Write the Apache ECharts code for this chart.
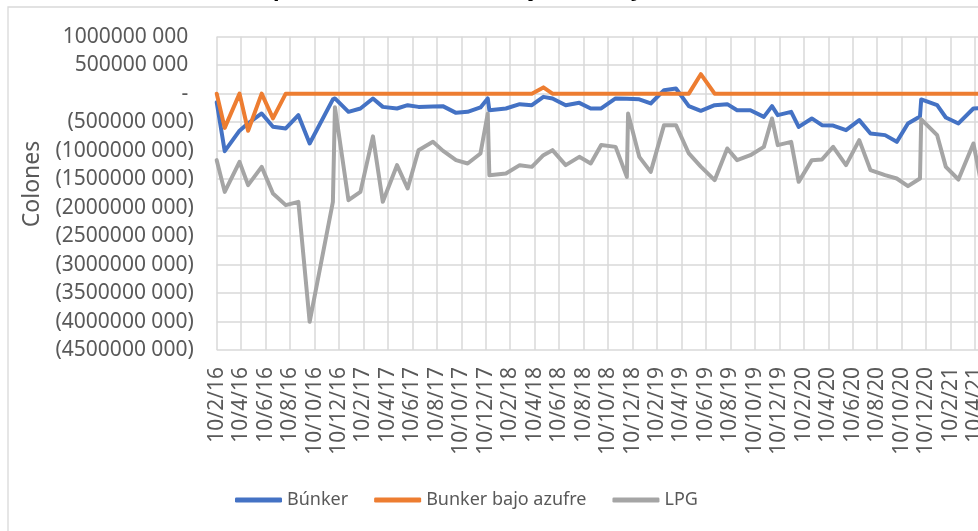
<!DOCTYPE html>
<html>
<head>
<meta charset="utf-8">
<script src="https://cdn.jsdelivr.net/npm/echarts@6/dist/echarts.min.js"></script>
<style>
  html, body { margin: 0; padding: 0; background: #fff; overflow: hidden; }
  /* el gráfico original está recortado a la derecha: el lienzo es más ancho que la ventana */
  #chart { width: 1010px; height: 531px; }
</style>
</head>
<body>
<div id="chart"></div>
<script>
// fechas de cada observación (eje de fechas por meses)
const fechas = [
  '2016-02-10', '2016-02-29', '2016-04-06', '2016-04-27', '2016-05-31', '2016-06-28',
  '2016-07-30', '2016-08-31', '2016-09-28', '2016-11-25', '2016-11-30', '2017-01-03',
  '2017-02-03', '2017-03-03', '2017-03-28', '2017-05-02', '2017-05-29', '2017-06-25',
  '2017-07-31', '2017-08-25', '2017-09-27', '2017-10-26', '2017-11-27', '2017-12-15',
  '2017-12-19', '2018-01-30', '2018-03-03', '2018-04-03', '2018-05-01', '2018-05-24',
  '2018-06-26', '2018-07-30', '2018-08-28', '2018-09-23', '2018-10-29', '2018-11-26',
  '2018-11-29', '2018-12-27', '2019-01-25', '2019-02-26', '2019-03-27', '2019-04-28',
  '2019-05-28', '2019-07-01', '2019-08-02', '2019-08-27', '2019-09-29', '2019-11-02',
  '2019-11-22', '2019-12-06', '2020-01-09', '2020-01-28', '2020-02-29', '2020-03-25',
  '2020-04-22', '2020-05-24', '2020-06-26', '2020-07-24', '2020-08-30', '2020-09-28',
  '2020-10-26', '2020-11-25', '2020-11-28', '2021-01-07', '2021-01-29', '2021-02-28',
  '2021-04-06', '2021-04-30'
]

// valores en millones de colones
const bunker = [
  -150, -1010, -650, -520, -348, -580, -611, -377, -874, -100, -84, -319,
  -260, -84, -232, -260, -202, -232, -225, -219, -337, -319, -242, -84,
  -290, -260, -184, -202, -56, -84, -202, -161, -260, -260, -84, -90,
  -90, -100, -172, 61, 91, -219, -301, -202, -184, -290, -290, -407,
  -219, -377, -319, -583, -435, -553, -560, -640, -465, -699, -728, -846,
  -523, -400, -102, -202, -418, -523, -260, -250
]
const bunkerBajoAzufre = [
  0, -600, 0, -650, 0, -435, 0, 0, 0, 0, 0, 0,
  0, 0, 0, 0, 0, 0, 0, 0, 0, 0, 0, 0,
  0, 0, 0, 0, 110, 0, 0, 0, 0, 0, 0, 0,
  0, 0, 0, 0, 0, 0, 342, 0, 0, 0, 0, 0,
  0, 0, 0, 0, 0, 0, 0, 0, 0, 0, 0, 0,
  0, 0, 0, 0, 0, 0, 0, 0
]
const lpg = [
  -1167, -1724, -1197, -1606, -1285, -1752, -1957, -1899, -4006, -1899, -240, -1870,
  -1724, -750, -1899, -1255, -1665, -992, -846, -1000, -1167, -1226, -1050, -348,
  -1431, -1401, -1255, -1285, -1080, -992, -1255, -1109, -1226, -900, -934, -1461,
  -348, -1109, -1373, -553, -553, -1050, -1280, -1519, -962, -1167, -1080, -934,
  -435, -904, -846, -1548, -1167, -1155, -934, -1255, -816, -1343, -1431, -1489,
  -1624, -1489, -450, -729, -1285, -1507, -874, -1750
]

const serieNombres = ['Búnker', 'Bunker bajo azufre', 'LPG']
const colores = ['#4472C4', '#ED7D31', '#A5A5A5']

// meses transcurridos desde 10/2/16 (eje de fechas con unidad base en meses)
const aMes = (f) => {
  const [a, m, d] = f.split('-').map(Number)
  const dias = new Date(a, m, 0).getDate()
  return (a - 2016) * 12 + (m - 2) + (d - 10) / dias
}

const etiquetaFecha = (v) => {
  const t = 1 + Math.round(v)
  const anio = 2016 + Math.floor(t / 12)
  const mes = (t % 12) + 1
  return '10/' + mes + '/' + String(anio % 100)
}

const etiquetaValor = (v) => {
  if (v === 0) return '- '
  const s = String(Math.abs(v) * 1e6)
  const txt = s.slice(0, -3) + ' ' + s.slice(-3)
  return v < 0 ? '(' + txt + ')' : txt + ' '
}

const chart = echarts.init(document.getElementById('chart'), null, { renderer: 'canvas' })

const lineas = [bunker, bunkerBajoAzufre, lpg].map((vals, i) => ({
  name: serieNombres[i],
  type: 'line',
  symbol: 'none',
  smooth: false,
  color: colores[i],
  lineStyle: { color: colores[i], width: 4, cap: 'round', join: 'round' },
  data: fechas.map((f, j) => [aMes(f), vals[j]])
}))

chart.setOption({
  animation: false,
  backgroundColor: '#fff',
  title: {
    // sólo asoma la parte baja del título, como en el original recortado
    text: 'Importación de bunker bajo azufre y LPG',
    left: 238,
    top: -26,
    textStyle: { fontSize: 22, fontWeight: 'bold', color: '#000', fontFamily: 'Noto Sans' }
  },
  graphic: [
    {
      type: 'rect',
      shape: { x: 8, y: 7, width: 2000, height: 2000 },
      style: { fill: 'none', stroke: '#d9d9d9', lineWidth: 1.3 },
      silent: true
    },
    {
      type: 'text',
      x: 32,
      y: 184,
      rotation: Math.PI / 2,
      style: {
        text: 'Colones',
        fontSize: 23,
        fontFamily: 'Noto Sans',
        fill: '#595959',
        textAlign: 'center',
        textVerticalAlign: 'middle'
      }
    }
  ],
  legend: {
    data: serieNombres,
    left: 235,
    top: 491,
    padding: 0,
    icon: 'roundRect',
    itemWidth: 47,
    itemHeight: 5,
    itemGap: 26,
    textStyle: { fontSize: 18, fontFamily: 'Noto Sans', color: '#595959' }
  },
  grid: { left: 216.7, top: 36.7, right: 8.8, height: 313.3 },
  xAxis: {
    type: 'value',
    min: 0,
    max: 64,
    interval: 2,
    axisLine: { show: false },
    axisTick: { show: false },
    splitLine: { show: true, lineStyle: { color: '#d9d9d9', width: 1.5 } },
    axisLabel: {
      rotate: 90,
      margin: 17,
      fontSize: 21,
      fontFamily: 'Noto Sans',
      color: '#595959',
      formatter: etiquetaFecha
    }
  },
  yAxis: {
    type: 'value',
    min: -4500,
    max: 1000,
    interval: 500,
    axisLine: { show: false },
    axisTick: { show: false },
    splitLine: { show: true, lineStyle: { color: '#d9d9d9', width: 1.5 } },
    axisLabel: {
      margin: 23,
      fontSize: 21,
      fontFamily: 'Noto Sans',
      color: '#595959',
      formatter: etiquetaValor
    }
  },
  series: lineas
})
</script>
</body>
</html>
